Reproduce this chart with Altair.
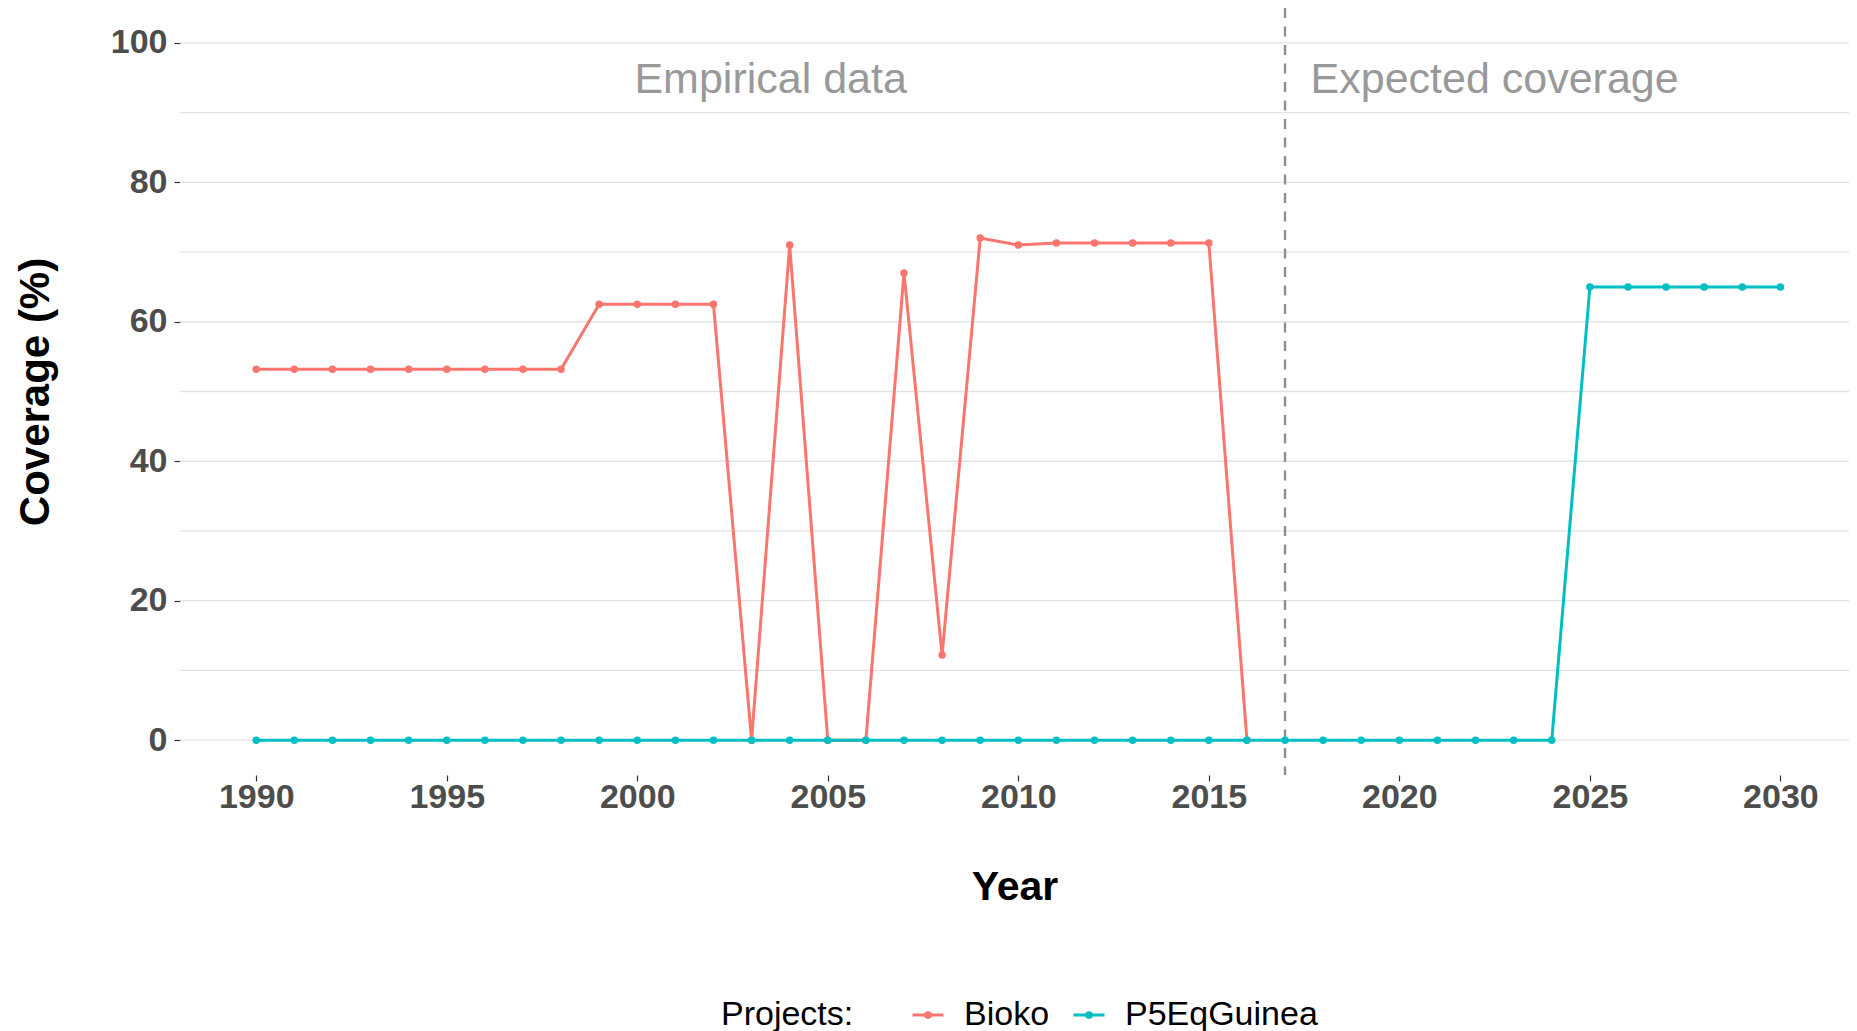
import altair as alt
import pandas as pd

# ---- data ----
projects = ["Bioko", "P5EqGuinea"]
colors = ["#F8766D", "#00BFC4"]

bioko_years = [1990, 1991, 1992, 1993, 1994, 1995, 1996, 1997, 1998, 1999, 2000, 2001, 2002,
               2003, 2004, 2005, 2006, 2007, 2008, 2009, 2010, 2011, 2012, 2013, 2014, 2015, 2016]
bioko_values = [53.2, 53.2, 53.2, 53.2, 53.2, 53.2, 53.2, 53.2, 53.2, 62.5, 62.5, 62.5, 62.5,
                0.0, 71.0, 0.0, 0.0, 67.0, 12.2, 72.0, 71.0, 71.3, 71.3, 71.3, 71.3, 71.3, 0.0]

p5_years = [1990, 1991, 1992, 1993, 1994, 1995, 1996, 1997, 1998, 1999, 2000, 2001, 2002, 2003,
            2004, 2005, 2006, 2007, 2008, 2009, 2010, 2011, 2012, 2013, 2014, 2015, 2016, 2017,
            2018, 2019, 2020, 2021, 2022, 2023, 2024, 2025, 2026, 2027, 2028, 2029, 2030]
p5_values = [0, 0, 0, 0, 0, 0, 0, 0, 0, 0, 0, 0, 0, 0,
             0, 0, 0, 0, 0, 0, 0, 0, 0, 0, 0, 0, 0, 0,
             0, 0, 0, 0, 0, 0, 0, 65, 65, 65, 65, 65, 65]

x_ticks = [1990, 1995, 2000, 2005, 2010, 2015, 2020, 2025, 2030]
y_ticks = [0, 20, 40, 60, 80, 100]
y_grid = [0, 10, 20, 30, 40, 50, 60, 70, 80, 90, 100]
split_year = [2017]
ann_x = [2003.5, 2022.5]
ann_y = [95, 95]
ann_text = ["Empirical data", "Expected coverage"]

# ---- tables ----
df = pd.DataFrame({
    "Year": bioko_years + p5_years,
    "Coverage": bioko_values + p5_values,
    "Project": ["Bioko"] * len(bioko_years) + ["P5EqGuinea"] * len(p5_years),
})
grid_df = pd.DataFrame({"g": y_grid})
split_df = pd.DataFrame({"Year": split_year})
ann_df = pd.DataFrame({"Year": ann_x, "Coverage": ann_y, "label": ann_text})

W, H = 1669, 767
FONT = "Liberation Sans"

xscale = alt.Scale(domain=[1988, 2031.8], nice=False, zero=False)
yscale = alt.Scale(domain=[-5, 105], nice=False, zero=False)

xaxis = alt.Axis(values=x_ticks, format="d", title="Year", grid=False, domain=False,
                 ticks=True, tickSize=6, tickColor="#333333", tickWidth=1.2,
                 labelFont=FONT, labelFontSize=34, labelFontWeight="bold", labelColor="#4D4D4D",
                 labelPadding=-1, titleFont=FONT, titleFontSize=41, titleFontWeight="bold",
                 titleColor="black", titleY=112, titleBaseline="middle")
yaxis = alt.Axis(values=y_ticks, title="Coverage (%)", grid=False, domain=False,
                 ticks=True, tickSize=6, tickColor="#333333", tickWidth=1.2,
                 labelFont=FONT, labelFontSize=34, labelFontWeight="bold", labelColor="#4D4D4D",
                 labelPadding=7, titleFont=FONT, titleFontSize=42, titleFontWeight="bold",
                 titleColor="black", titleX=-145, titleBaseline="middle", titleAngle=270)

grid = alt.Chart(grid_df).mark_rule(color="#E3E3E3", strokeWidth=1.3).encode(
    y=alt.Y("g:Q", scale=yscale, axis=yaxis),
    x=alt.value(0), x2=alt.value(W),
)

vline = alt.Chart(split_df).mark_rule(color="#8F8F8F", strokeWidth=2.4, strokeDash=[10, 8.5]).encode(
    x=alt.X("Year:Q", scale=xscale, axis=xaxis),
    y=alt.value(0), y2=alt.value(H),
)

ann = alt.Chart(ann_df).mark_text(font=FONT, fontSize=43, color="#999999",
                                  align="center", baseline="middle", dy=2.5).encode(
    x=alt.X("Year:Q", scale=xscale, axis=xaxis),
    y=alt.Y("Coverage:Q", scale=yscale, axis=yaxis),
    text="label:N",
)

sym = "M-1,0H1M-0.15,0a0.15,0.15 0 1,0 0.3,0a0.15,0.15 0 1,0 -0.3,0"

lines = alt.Chart(df).mark_line(
    strokeWidth=3,
    point=alt.OverlayMarkDef(size=56, filled=True, opacity=1),
).encode(
    x=alt.X("Year:Q", scale=xscale, axis=xaxis),
    y=alt.Y("Coverage:Q", scale=yscale, axis=yaxis),
    color=alt.Color("Project:N", scale=alt.Scale(domain=projects, range=colors),
                    legend=alt.Legend(title="Projects:", orient="none", legendX=541, legendY=990,
                                      direction="horizontal", titleOrient="left",
                                      titleFont=FONT, titleFontSize=34, titleFontWeight="normal",
                                      titleColor="black", titlePadding=57,
                                      labelFont=FONT, labelFontSize=34, labelColor="black",
                                      labelOffset=19, columnPadding=17, padding=0, labelLimit=0,
                                      symbolType=sym, symbolSize=960, symbolStrokeWidth=3)),
)

chart = alt.layer(grid, vline, ann, lines).properties(
    width=W, height=H,
    background="white",
    autosize=alt.AutoSizeParams(type="none"),
    padding={"left": 172, "top": 0, "right": 0, "bottom": 256},
).configure_view(strokeWidth=0)

chart.save("out.html", embed_options={"renderer": "svg", "actions": False})
